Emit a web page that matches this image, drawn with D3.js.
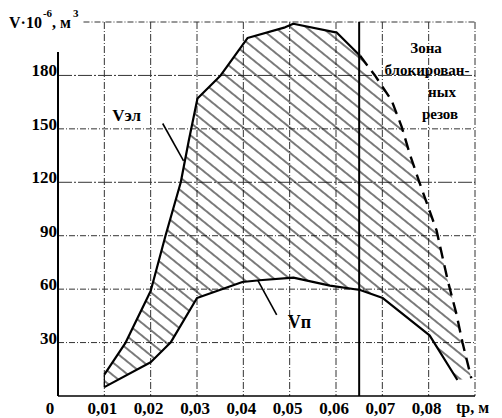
<!DOCTYPE html>
<html><head><meta charset="utf-8">
<script src="https://cdn.jsdelivr.net/npm/d3@7"></script>
<style>body{margin:0;background:#fff}svg{display:block}
text{font-family:"Liberation Serif","DejaVu Serif","Times New Roman",serif;font-weight:bold;fill:#000}</style>
</head><body><svg id="c" width="502" height="418"></svg>
<script>
// ---- data ----
const xTickValues = [0, 0.01, 0.02, 0.03, 0.04, 0.05, 0.06, 0.07, 0.08];
const xTickLabels = ["0", "0,01", "0,02", "0,03", "0,04", "0,05", "0,06", "0,07", "0,08"];
const yTickValues = [30, 60, 90, 120, 150, 180];
const yTickLabels = ["30", "60", "90", "120", "150", "180"];
const gridYValues = [30, 60, 90, 120, 150, 180, 210];
const gridXValues = [0.01, 0.02, 0.03, 0.04, 0.05, 0.06, 0.07, 0.08, 0.09];
const zoneBoundary = 0.065;
// V эл (upper curve)
const vElX = [0.01, 0.0146, 0.02, 0.0232, 0.0265, 0.0282, 0.0301, 0.0351, 0.0409, 0.049, 0.0508, 0.0602, 0.0652, 0.0684, 0.072, 0.0742, 0.0759, 0.078, 0.0817, 0.0841, 0.086, 0.0873, 0.0892];
const vElY = [12, 30, 59, 90, 120, 143, 167, 180, 201, 207, 209, 204, 191, 180, 166, 151, 136, 120, 93, 65, 46, 30, 10];
// V п (lower curve)
const vPX = [0.01, 0.02, 0.0243, 0.03, 0.0398, 0.0435, 0.0508, 0.0587, 0.0652, 0.0701, 0.0802, 0.0862];
const vPY = [5, 19, 30, 55, 64, 65, 66.5, 62, 59.5, 55, 34, 9];
const zoneText = ["Зона", "блокирован-", "ных", "резов"];

// ---- scales ----
const svg = d3.select("#c");
const x = d3.scaleLinear().domain([0, 0.09]).range([58, 475]);
const y = d3.scaleLinear().domain([0, 210]).range([396, 22]);

const upper = vElX.map((v, i) => [v, vElY[i]]);
const lower = vPX.map((v, i) => [v, vPY[i]]);
const line = d3.line().x(d => x(d[0])).y(d => y(d[1]));

// ---- grid ----
const grid = svg.append("g").attr("stroke", "#333").attr("stroke-width", 1).attr("fill", "none");
grid.selectAll("line.h").data(gridYValues).join("line")
  .attr("x1", d => d === 210 ? x(0.0055) : x(0)).attr("x2", x(0.09))
  .attr("y1", d => y(d)).attr("y2", d => y(d))
  .attr("stroke-dasharray", d => (d === 180 || d === 120) ? "14,2,2,2" : "6,2,1,2");
grid.selectAll("line.v").data(gridXValues).join("line")
  .attr("x1", d => x(d)).attr("x2", d => x(d))
  .attr("y1", y(210)).attr("y2", y(0))
  .attr("stroke-dasharray", "7,2,1,2");

// ---- hatch ----
const defs = svg.append("defs");
const pat = defs.append("pattern").attr("id", "hatch")
  .attr("patternUnits", "userSpaceOnUse").attr("width", 10).attr("height", 9.8)
  .attr("patternTransform", "rotate(39)");
pat.append("line").attr("x1", 0).attr("x2", 10).attr("y1", 4.9).attr("y2", 4.9)
  .attr("stroke", "#111").attr("stroke-width", 1.1);
const region = upper.concat(lower.slice().reverse());
svg.append("path").attr("d", line(region) + "Z").attr("fill", "url(#hatch)").attr("stroke", "none");

// ---- axes ----
svg.append("line").attr("x1", x(0)).attr("x2", x(0)).attr("y1", y(178) - 27).attr("y2", y(0))
  .attr("stroke", "#000").attr("stroke-width", 2);
svg.append("line").attr("x1", x(0)).attr("x2", x(0.09)).attr("y1", y(0)).attr("y2", y(0))
  .attr("stroke", "#000").attr("stroke-width", 1.6);
// zone boundary
svg.append("line").attr("x1", x(zoneBoundary)).attr("x2", x(zoneBoundary))
  .attr("y1", y(210)).attr("y2", y(0)).attr("stroke", "#000").attr("stroke-width", 2);

// ---- curves ----
const upperSolid = upper.filter(d => d[0] <= zoneBoundary + 0.0003);
const upperDash = upper.filter(d => d[0] >= zoneBoundary);
svg.append("path").attr("d", line(upperSolid)).attr("fill", "none").attr("stroke", "#000").attr("stroke-width", 2.2).attr("stroke-linejoin", "round");
svg.append("path").attr("d", line(upperDash)).attr("fill", "none").attr("stroke", "#000").attr("stroke-width", 2.4).attr("stroke-dasharray", "12,7");
svg.append("path").attr("d", line(lower)).attr("fill", "none").attr("stroke", "#000").attr("stroke-width", 2.2).attr("stroke-linejoin", "round");
svg.append("path").attr("d", line([upper[0], lower[0]])).attr("fill", "none").attr("stroke", "#000").attr("stroke-width", 1.2);

// ---- tick labels ----
svg.append("g").selectAll("text").data(yTickValues).join("text")
  .attr("x", x(0) - 1).attr("y", d => y(d) + 1).attr("text-anchor", "end")
  .attr("font-size", 17)
  .text((d, i) => yTickLabels[i]);
svg.append("g").selectAll("text").data(xTickValues).join("text")
  .attr("x", d => d === 0 ? x(d) - 8 : x(d) - 2).attr("y", 414).attr("text-anchor", "middle")
  .attr("font-size", 17)
  .text((d, i) => xTickLabels[i]);
svg.append("text").attr("x", x(0.09) - 19).attr("y", 413)
  .attr("font-size", 16).text("tр, м");

// ---- y title ----
const t = svg.append("text").attr("x", 9).attr("y", 28).attr("font-size", 16);
t.append("tspan").text("V·10");
t.append("tspan").attr("dx", 1).attr("dy", -11).attr("font-size", 11).text("-6");
t.append("tspan").attr("dx", 0).attr("dy", 11).text(", м");
t.append("tspan").attr("dx", 2).attr("dy", -11).attr("font-size", 11).text("3");

// ---- curve labels ----
svg.append("text").attr("x", x(0.0117)).attr("y", y(154.5)).attr("font-size", 17).text("Vэл");
svg.append("line").attr("x1", x(0.0226)).attr("y1", y(153)).attr("x2", x(0.0271)).attr("y2", y(132)).attr("stroke", "#000").attr("stroke-width", 1.6);
svg.append("text").attr("x", x(0.0496)).attr("y", y(38)).attr("font-size", 18).text("Vп");
svg.append("line").attr("x1", x(0.0431)).attr("y1", y(65)).attr("x2", x(0.0472)).attr("y2", y(45.5)).attr("stroke", "#000").attr("stroke-width", 1.6);

// ---- zone text ----
const zx = [426, 427, 442, 440];
const zy = [53, 75, 97, 119];
svg.append("g").selectAll("text").data(zoneText).join("text")
  .attr("x", (d, i) => zx[i]).attr("y", (d, i) => zy[i]).attr("text-anchor", "middle")
  .attr("font-size", 15)
  .text(d => d);
</script></body></html>
